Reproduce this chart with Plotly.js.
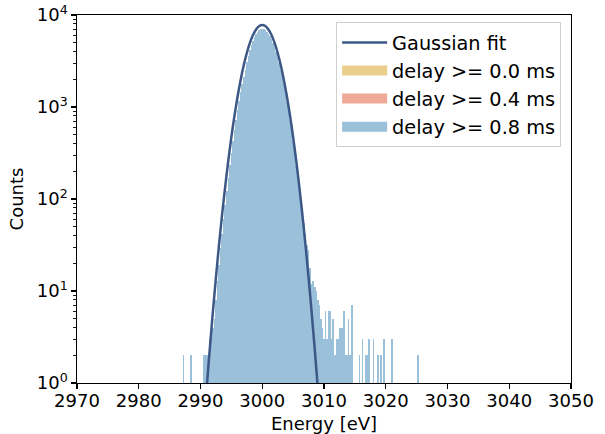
<!DOCTYPE html>
<html>
<head>
<meta charset="utf-8">
<script src="https://cdn.plot.ly/plotly-3.0.1.min.js"></script>
<style>html,body{margin:0;padding:0;background:#fff;}#chart{width:605px;height:434px;}</style>
</head>
<body>
<div id="chart"></div>
<script>
// Histogram bin centres (eV) and counts (empty bins omitted)
const binEnergy = [
  2987.25, 2988.5, 2990.5, 2990.75, 2991.0, 2991.25, 2991.5, 2991.75,
  2992.0, 2992.25, 2992.5, 2992.75, 2993.0, 2993.25, 2993.5, 2993.75,
  2994.0, 2994.25, 2994.5, 2994.75, 2995.0, 2995.25, 2995.5, 2995.75,
  2996.0, 2996.25, 2996.5, 2996.75, 2997.0, 2997.25, 2997.5, 2997.75,
  2998.0, 2998.25, 2998.5, 2998.75, 2999.0, 2999.25, 2999.5, 2999.75,
  3000.0, 3000.25, 3000.5, 3000.75, 3001.0, 3001.25, 3001.5, 3001.75,
  3002.0, 3002.25, 3002.5, 3002.75, 3003.0, 3003.25, 3003.5, 3003.75,
  3004.0, 3004.25, 3004.5, 3004.75, 3005.0, 3005.25, 3005.5, 3005.75,
  3006.0, 3006.25, 3006.5, 3006.75, 3007.0, 3007.25, 3007.5, 3007.75,
  3008.0, 3008.25, 3008.5, 3008.75, 3009.0, 3009.25, 3009.5, 3009.75,
  3010.0, 3010.25, 3010.5, 3010.75, 3011.0, 3011.25, 3011.5, 3011.75,
  3012.0, 3012.25, 3012.5, 3012.75, 3013.0, 3013.25, 3013.5, 3013.75,
  3014.0, 3014.25, 3014.5, 3015.75, 3016.25, 3016.75, 3017.0, 3017.25,
  3018.0, 3018.75, 3019.25, 3019.75, 3021.0, 3025.25
];
const countsAll = [
  2, 2, 2, 2, 2, 2, 3, 4,
  4, 5, 8, 13, 19, 29, 42, 61,
  87, 123, 171, 234, 317, 423, 556, 722,
  922, 1163, 1446, 1773, 2143, 2554, 3050, 3600,
  4150, 4700, 5250, 5750, 6180, 6530, 6800, 6960,
  7020, 6970, 6826, 6590, 6274, 5890, 5452, 4976,
  4479, 3974, 3479, 3000, 2554, 2143, 1773, 1446,
  1163, 922, 722, 556, 423, 317, 234, 171,
  125, 95, 70, 55, 42, 32, 28, 18,
  12, 13, 11, 10, 8, 7, 5, 4,
  3, 6, 3, 6, 6, 3, 5, 2,
  3, 3, 4, 4, 4, 6, 2, 2,
  5, 2, 7, 2, 3, 2, 2, 3,
  3, 2, 2, 3, 3, 2
];
// the three delay selections give the same counts in the visible picture
const counts00 = countsAll;
const counts04 = countsAll;
const counts08 = countsAll;

// Gaussian fit curve points
const fitEnergy = [
  2990.5, 2991.0, 2991.5, 2992.0, 2992.5, 2993.0, 2993.5, 2994.0, 2994.5, 2995.0,
  2995.5, 2996.0, 2996.5, 2997.0, 2997.5, 2998.0, 2998.5, 2999.0, 2999.5, 3000.0,
  3000.5, 3001.0, 3001.5, 3002.0, 3002.5, 3003.0, 3003.5, 3004.0, 3004.5, 3005.0,
  3005.5, 3006.0, 3006.5, 3007.0, 3007.5, 3008.0, 3008.5, 3009.0, 3009.5
];
const fitCounts = [
  0.31, 0.87, 2.33, 5.87, 14.0, 31.7, 67.7, 136.6, 260.5, 470,
  802, 1292, 1970, 2838, 3865, 4977, 6058, 6971, 7584, 7800,
  7584, 6971, 6058, 4977, 3865, 2838, 1970, 1292, 802, 470,
  260.5, 136.6, 67.7, 31.7, 14.0, 5.87, 2.33, 0.87, 0.31
];

const seriesNames = ['delay >= 0.0 ms', 'delay >= 0.4 ms', 'delay >= 0.8 ms'];
const seriesColors = ['#ecce8b', '#f0a999', '#9bc0da'];
const seriesCounts = [counts00, counts04, counts08];

const yTickVals = [1, 10, 100, 1000, 10000];
const yTickText = ['10<sup>0</sup>', '10<sup>1</sup>', '10<sup>2</sup>', '10<sup>3</sup>', '10<sup>4</sup>'];
const yMinorTickVals = [2, 3, 4, 5, 6, 7, 8, 9, 20, 30, 40, 50, 60, 70, 80, 90,
  200, 300, 400, 500, 600, 700, 800, 900, 2000, 3000, 4000, 5000, 6000, 7000, 8000, 9000];

const traces = seriesCounts.map((c, i) => ({
  type: 'bar', x: binEnergy, y: c, width: 0.25,
  name: seriesNames[i], showlegend: false,
  marker: {color: seriesColors[i], line: {width: 0}},
  hoverinfo: 'skip'
}));
traces.push({
  type: 'scatter', mode: 'lines', x: fitEnergy, y: fitCounts,
  name: 'Gaussian fit', legendrank: 1, legendgroup: 'fit',
  line: {color: '#3b5886', width: 2.5, shape: 'spline', smoothing: 0.8}
});
// legend entries for the histograms (wide patches like the reference)
seriesNames.forEach((n, i) => traces.push({
  type: 'scatter', mode: 'lines', x: [null], y: [null],
  name: n, legendrank: i + 2, legendgroup: 'g' + i,
  line: {color: seriesColors[i], width: 14}, hoverinfo: 'skip'
}));

const font = {family: 'DejaVu Sans, sans-serif', size: 18, color: '#000'};
const legendFont = {family: 'DejaVu Sans, sans-serif', size: 19.3, color: '#000'};
const layout = {
  width: 605, height: 434,
  margin: {l: 77, r: 34, t: 15, b: 51},
  paper_bgcolor: '#fff', plot_bgcolor: '#fff',
  font: font,
  barmode: 'overlay', bargap: 0,
  showlegend: true,
  legend: {
    x: 0.98, xanchor: 'right', y: 0.98, yanchor: 'top',
    bgcolor: 'rgba(255,255,255,0.8)', bordercolor: '#d0d0d0', borderwidth: 1,
    font: legendFont,
    itemwidth: 45, tracegroupgap: 3, traceorder: 'normal'
  },
  xaxis: {
    range: [2970, 3050], dtick: 10, tick0: 2970,
    showgrid: false, zeroline: false,
    showline: true, linecolor: '#000', linewidth: 1.2, mirror: true,
    ticks: 'outside', ticklen: 4.5, tickwidth: 1.2, tickcolor: '#000',
    ticklabelstandoff: -3,
    tickfont: font,
    title: {text: 'Energy [eV]', font: font, standoff: 9}
  },
  yaxis: {
    type: 'log', range: [0, 4],
    tickvals: yTickVals, ticktext: yTickText,
    showgrid: false, zeroline: false,
    showline: true, linecolor: '#000', linewidth: 1.2, mirror: true,
    ticks: 'outside', ticklen: 4.5, tickwidth: 1.2, tickcolor: '#000',
    minor: {tickmode: 'array', tickvals: yMinorTickVals, ticks: 'outside', ticklen: 2.5, tickwidth: 0.9, tickcolor: '#000', showgrid: false},
    tickfont: font,
    title: {text: 'Counts', font: font, standoff: 8}
  }
};
Plotly.newPlot('chart', traces, layout, {displayModeBar: false, staticPlot: true});
</script>
</body>
</html>
